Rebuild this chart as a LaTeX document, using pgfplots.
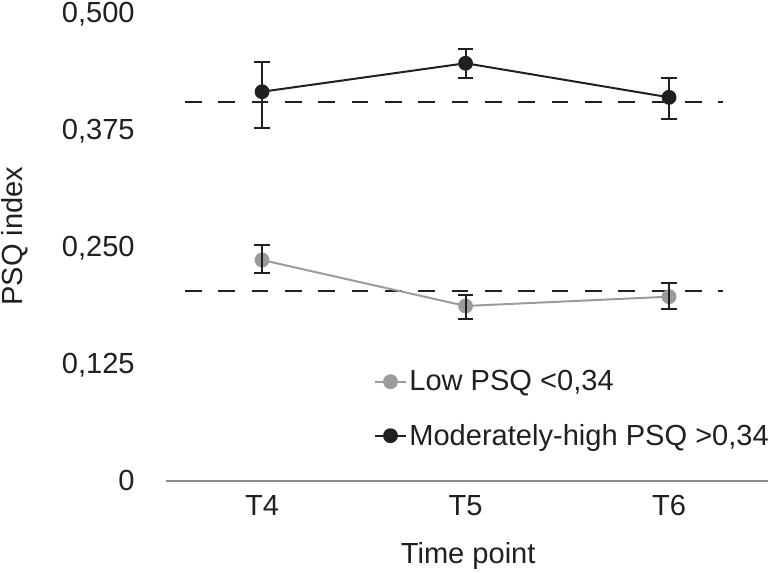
\documentclass[border=0pt]{standalone}
\usepackage{fontspec}
\setmainfont{Liberation Sans}
\usepackage{pgfplots}
\pgfplotsset{compat=1.18}
\definecolor{lowgray}{HTML}{9B9B9B}
\definecolor{axgray}{HTML}{8C8C8C}
\definecolor{ink}{HTML}{231F20}

\begin{document}
\begin{tikzpicture}
\begin{axis}[
  at={(0,0)}, anchor=south west,
  scale only axis, width=451.5pt, height=351pt,
  xmin=-0.472, xmax=2.486, ymin=0, ymax=0.5,
  clip=false, clip marker paths=true,
  axis x line*=bottom, axis y line*=left,
  x axis line style={axgray, line width=1.5pt, -},
  y axis line style={draw=none},
  major tick length=0pt,
  xtick={0,1,2}, xticklabels={T4,T5,T6},
  ytick={0,0.125,0.25,0.375,0.5},
  yticklabels={0,{0,125},{0,250},{0,375},{0,500}},
  tick label style={font=\fontsize{21.8}{26}\selectfont, text=ink},
  xticklabel style={anchor=base, yshift=-25.5pt},
  yticklabel style={anchor=base east, xshift=-20pt, yshift=-6.75pt},
  label style={font=\fontsize{21.8}{26}\selectfont, text=ink},
  xlabel={Time point},
  ylabel={PSQ index},
  xlabel style={at={(axis description cs:0.502,-0.1605)}, anchor=center},
  ylabel style={at={(axis description cs:-0.2515,0.5235)}, anchor=center},
  legend style={draw=none, fill=none, font=\fontsize{21.8}{26}\selectfont, text=ink,
    at={(axis description cs:0.339,0.248)}, anchor=north west, row sep=19.5pt},
  legend cell align=left,
  legend image code/.code={\draw[mark repeat=2, mark phase=2]
    plot coordinates {(0cm,0cm) (0.4cm,0cm) (0.8cm,0cm)};},
]
% reference lines
\addplot[ink, line width=1.5pt, dash pattern=on 12.5pt off 12.5pt, forget plot]
  coordinates {(-0.378,0.4046) (2.265,0.4046)};
\addplot[ink, line width=1.5pt, dash pattern=on 12.5pt off 12.5pt, forget plot]
  coordinates {(-0.378,0.2030) (2.265,0.2030)};

% Low PSQ
\addplot[lowgray, line width=1.5pt, mark=*, mark size=4.8pt,
  mark options={fill=lowgray, draw=lowgray}]
  coordinates {(0,0.2361) (1,0.1870) (2,0.1969)};
\addlegendentry{Low PSQ <0,34}

% Moderately-high PSQ
\addplot[ink, line width=1.5pt, mark=*, mark size=4.8pt,
  mark options={fill=ink, draw=ink}]
  coordinates {(0,0.4159) (1,0.4463) (2,0.4099)};
\addlegendentry{Moderately-high PSQ >0,34}

% error bars on top
\addplot[ink, draw=none, mark=none, forget plot,
  error bars/.cd, y dir=both, y explicit,
  error bar style={draw=ink, solid, line width=1.6pt},
  error mark options={rotate=90, mark size=5.75pt, line width=1.6pt, draw=ink}]
  coordinates {
  (0,0.2361) += (0,0.0160) -= (0,0.0142)
  (1,0.1870) += (0,0.0117) -= (0,0.0142)
  (2,0.1969) += (0,0.0150) -= (0,0.0131)
  (0,0.4159) += (0,0.0321) -= (0,0.0391)
  (1,0.4463) += (0,0.0149) -= (0,0.0154)
  (2,0.4099) += (0,0.0210) -= (0,0.0231)
  };
\end{axis}
\pgfresetboundingbox
\path (-124.5pt,-68.25pt) rectangle (451.5pt,360.75pt);
\end{tikzpicture}
\end{document}
